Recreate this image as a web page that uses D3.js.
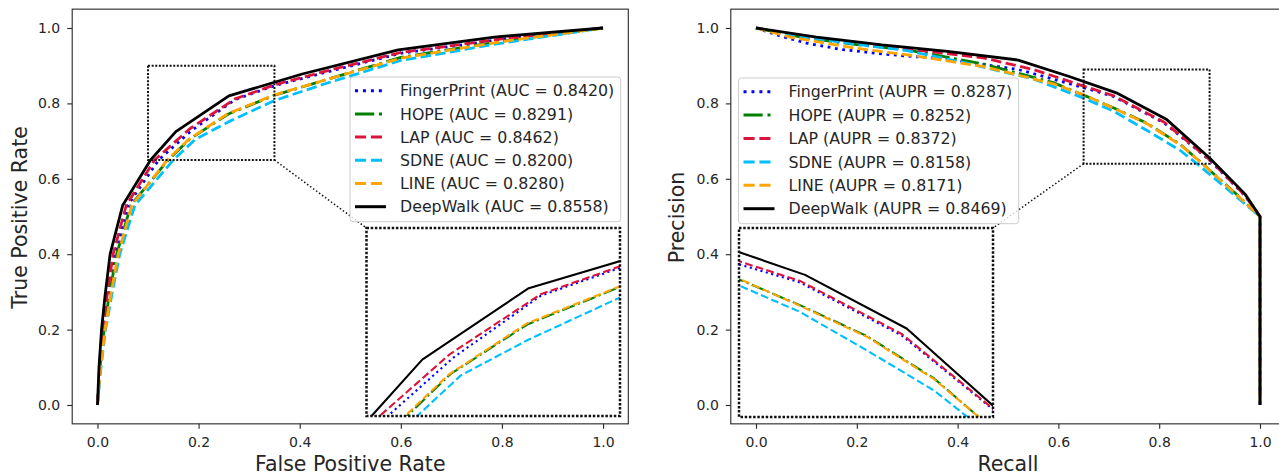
<!DOCTYPE html>
<html>
<head>
<meta charset="utf-8">
<script src="https://cdn.jsdelivr.net/npm/d3@7"></script>
<style>
  body { margin: 0; background: #fff; }
  text { font-family: "DejaVu Sans", sans-serif; }
</style>
</head>
<body>
<svg id="chart" width="1279" height="475"></svg>
<script>
// ---- data ----
const methods = ["FingerPrint", "HOPE", "LAP", "SDNE", "LINE", "DeepWalk"];
const colors = ["#0000ff", "#008000", "#dc143c", "#00bfff", "#ffa500", "#000000"];
const lineStyles = ["dotted", "dashdot", "dashed", "dashed", "dashed", "solid"];
const aucValues = ["0.8420", "0.8291", "0.8462", "0.8200", "0.8280", "0.8558"];
const auprValues = ["0.8287", "0.8252", "0.8372", "0.8158", "0.8171", "0.8469"];
const tickValues = [0, 0.2, 0.4, 0.6, 0.8, 1.0];

// ROC curves, [fpr, tpr]
const rocFingerPrint = [[0,0],[0.005,0.1],[0.012,0.2],[0.021,0.29],[0.034,0.4],[0.06,0.53],[0.121,0.65],[0.186,0.728],[0.272,0.81],[0.35,0.847],[0.45,0.882],[0.6,0.933],[0.8,0.97],[1,1]];
const rocHOPE = [[0,0],[0.005,0.1],[0.013,0.2],[0.023,0.29],[0.038,0.4],[0.066,0.53],[0.14,0.65],[0.183,0.706],[0.259,0.772],[0.349,0.821],[0.45,0.862],[0.6,0.922],[0.8,0.965],[1,1]];
const rocLAP = [[0,0],[0.004,0.1],[0.01,0.2],[0.019,0.29],[0.031,0.4],[0.057,0.53],[0.113,0.65],[0.182,0.732],[0.272,0.812],[0.35,0.849],[0.45,0.885],[0.6,0.935],[0.8,0.971],[1,1]];
const rocSDNE = [[0,0],[0.007,0.1],[0.016,0.2],[0.028,0.29],[0.044,0.4],[0.074,0.53],[0.15,0.65],[0.193,0.704],[0.259,0.751],[0.349,0.807],[0.45,0.852],[0.6,0.914],[0.8,0.96],[1,1]];
const rocLINE = [[0,0],[0.006,0.1],[0.015,0.2],[0.026,0.29],[0.041,0.4],[0.068,0.53],[0.138,0.65],[0.181,0.705],[0.258,0.773],[0.349,0.822],[0.45,0.862],[0.6,0.92],[0.8,0.964],[1,1]];
const rocDeepWalk = [[0,0],[0.003,0.1],[0.008,0.2],[0.015,0.29],[0.025,0.4],[0.05,0.53],[0.105,0.65],[0.155,0.725],[0.26,0.82],[0.405,0.878],[0.595,0.942],[0.785,0.976],[1,1]];

// PR curves, [recall, precision]
const prFingerPrint = [[0,1],[0.05,0.978],[0.1,0.96],[0.17,0.943],[0.26,0.93],[0.38,0.917],[0.52,0.89],[0.65,0.842],[0.71,0.818],[0.81,0.748],[0.9,0.65],[0.97,0.555],[1,0.5],[1,0]];
const prHOPE = [[0,1],[0.1,0.973],[0.2,0.956],[0.3,0.942],[0.45,0.905],[0.59,0.855],[0.65,0.822],[0.71,0.788],[0.776,0.747],[0.842,0.691],[0.886,0.64],[0.95,0.563],[1,0.5],[1,0]];
const prLAP = [[0,1],[0.1,0.976],[0.2,0.958],[0.31,0.943],[0.45,0.921],[0.55,0.89],[0.65,0.846],[0.71,0.82],[0.81,0.75],[0.9,0.651],[0.97,0.556],[1,0.5],[1,0]];
const prSDNE = [[0,1],[0.1,0.975],[0.2,0.957],[0.3,0.94],[0.42,0.906],[0.55,0.865],[0.65,0.814],[0.71,0.779],[0.776,0.728],[0.842,0.675],[0.875,0.64],[0.95,0.556],[1,0.5],[1,0]];
const prLINE = [[0,1],[0.07,0.975],[0.2,0.946],[0.31,0.927],[0.45,0.898],[0.59,0.852],[0.65,0.823],[0.71,0.787],[0.776,0.746],[0.842,0.69],[0.886,0.64],[0.95,0.562],[1,0.5],[1,0]];
const prDeepWalk = [[0,1],[0.12,0.976],[0.25,0.955],[0.38,0.938],[0.52,0.915],[0.62,0.872],[0.715,0.828],[0.815,0.757],[0.9,0.655],[0.97,0.56],[1,0.5],[1,0]];

const INK = "#262626";
const svg = d3.select("#chart");

// matplotlib-like dash patterns, scaled by line width
function dashArray(style, lw) {
    if (style === "dashed") return [3.7 * lw, 1.6 * lw].join(",");
    if (style === "dotted") return [1 * lw, 1.65 * lw].join(",");
    if (style === "dashdot") return [6.4 * lw, 1.6 * lw, 1 * lw, 1.6 * lw].join(",");
    return null;
}

function drawCurves(parent, series, x, y, lw) {
    const line = d3.line().x(d => x(d[0])).y(d => y(d[1]));
    series.forEach((pts, i) => {
        parent.append("path")
            .attr("d", line(pts))
            .attr("fill", "none")
            .attr("stroke", colors[i])
            .attr("stroke-width", lw)
            .attr("stroke-linejoin", "round")
            .attr("stroke-dasharray", dashArray(lineStyles[i], lw));
    });
}

function drawPanel(p) {
    const yBottom = 423.85, yTop = 9.15;
    const x = d3.scaleLinear().domain([-0.05, 1.05]).range(p.xRange);
    const y = d3.scaleLinear().domain([-0.05, 1.05]).range([yBottom, yTop]);
    const [x0, x1] = p.xRange;
    const g = svg.append("g");

    g.append("clipPath").attr("id", p.id + "-clip")
        .append("rect")
        .attr("x", x0).attr("y", yTop)
        .attr("width", x1 - x0).attr("height", yBottom - yTop);

    const main = g.append("g").attr("clip-path", `url(#${p.id}-clip)`);
    drawCurves(main, p.series, x, y, 2.8);

    // axes
    const gx = g.append("g")
        .attr("transform", `translate(0,${yBottom})`)
        .call(d3.axisBottom(x).tickValues(tickValues).tickFormat(d3.format(".1f")).tickSize(5).tickPadding(8));
    const gy = g.append("g")
        .attr("transform", `translate(${x0},0)`)
        .call(d3.axisLeft(y).tickValues(tickValues).tickFormat(d3.format(".1f")).tickSize(5).tickPadding(7));
    [gx, gy].forEach(a => {
        a.select(".domain").remove();
        a.selectAll("text").style("font-size", "14px").attr("fill", INK);
        a.selectAll("line").attr("stroke", INK).attr("stroke-width", 1.1);
    });

    g.append("rect")
        .attr("x", x0).attr("y", yTop)
        .attr("width", x1 - x0).attr("height", yBottom - yTop)
        .attr("fill", "none").attr("stroke", INK).attr("stroke-width", 1.1);

    g.append("text")
        .attr("x", (x0 + x1) / 2).attr("y", 471)
        .attr("text-anchor", "middle")
        .style("font-size", "20.5px").attr("fill", INK)
        .text(p.xLabel);
    g.append("text")
        .attr("transform", `translate(${p.yLabelX},${(yTop + yBottom) / 2 + 1}) rotate(-90)`)
        .attr("text-anchor", "middle")
        .style("font-size", "20.5px").attr("fill", INK)
        .text(p.yLabel);

    // zoomed region and its connector
    const z = p.zoom;
    g.append("rect")
        .attr("x", x(z.x[0])).attr("y", y(z.y[1]))
        .attr("width", x(z.x[1]) - x(z.x[0])).attr("height", y(z.y[0]) - y(z.y[1]))
        .attr("fill", "none").attr("stroke", "#111")
        .attr("stroke-width", 2).attr("stroke-dasharray", "2,1.6");
    g.append("line")
        .attr("x1", x(p.link[0])).attr("y1", y(p.link[1]))
        .attr("x2", p.linkTo[0]).attr("y2", p.linkTo[1])
        .attr("stroke", "#111").attr("stroke-width", 1.5).attr("stroke-dasharray", "1.5,2.2");

    // inset
    const b = p.inset;
    const ix = d3.scaleLinear().domain(z.x).range([b.left, b.right]);
    const iy = d3.scaleLinear().domain(z.y).range([b.bottom, b.top]);
    g.append("rect")
        .attr("x", b.left).attr("y", b.top)
        .attr("width", b.right - b.left).attr("height", b.bottom - b.top)
        .attr("fill", "#fff");
    g.append("clipPath").attr("id", p.id + "-inset")
        .append("rect")
        .attr("x", b.left).attr("y", b.top)
        .attr("width", b.right - b.left).attr("height", b.bottom - b.top);
    const ins = g.append("g").attr("clip-path", `url(#${p.id}-inset)`);
    drawCurves(ins, p.series, ix, iy, 2.1);
    g.append("rect")
        .attr("x", b.left).attr("y", b.top)
        .attr("width", b.right - b.left).attr("height", b.bottom - b.top)
        .attr("fill", "none").attr("stroke", "#111")
        .attr("stroke-width", 2.5).attr("stroke-dasharray", "2.5,1.7");

    // legend
    const L = p.legend;
    const lg = g.append("g");
    const box = lg.append("rect")
        .attr("x", L.x).attr("y", L.y)
        .attr("rx", 3)
        .attr("fill", "#fff").attr("fill-opacity", 0.8)
        .attr("stroke", "#cccccc").attr("stroke-width", 1);
    let maxW = 0;
    methods.forEach((m, i) => {
        const cy = L.y + L.first + i * L.step;
        lg.append("line")
            .attr("x1", L.x + 5).attr("x2", L.x + 36)
            .attr("y1", cy).attr("y2", cy)
            .attr("stroke", colors[i]).attr("stroke-width", 3)
            .attr("stroke-dasharray", dashArray(lineStyles[i], 3));
        const t = lg.append("text")
            .attr("x", L.x + 50).attr("y", cy).attr("dy", "0.36em")
            .style("font-size", "15.8px").attr("fill", INK)
            .text(`${m} (${p.metric} = ${p.values[i]})`);
        maxW = Math.max(maxW, t.node().getComputedTextLength());
    });
    box.attr("width", 50 + maxW + 6.5)
        .attr("height", L.first + (methods.length - 1) * L.step + 15);
}

drawPanel({
    id: "roc",
    xRange: [72.2, 628.3],
    series: [rocFingerPrint, rocHOPE, rocLAP, rocSDNE, rocLINE, rocDeepWalk],
    xLabel: "False Positive Rate",
    yLabel: "True Positive Rate",
    yLabelX: 26.7,
    zoom: { x: [0.1, 0.35], y: [0.65, 0.9] },
    link: [0.35, 0.65],
    linkTo: [366.5, 228],
    inset: { left: 366.5, right: 620, top: 228, bottom: 416 },
    legend: { x: 350, y: 77, first: 13.7, step: 23.2 },
    metric: "AUC",
    values: aucValues
});

drawPanel({
    id: "pr",
    xRange: [730.8, 1285.2],
    series: [prFingerPrint, prHOPE, prLAP, prSDNE, prLINE, prDeepWalk],
    xLabel: "Recall",
    yLabel: "Precision",
    yLabelX: 684,
    zoom: { x: [0.65, 0.9], y: [0.64, 0.89] },
    link: [0.65, 0.64],
    linkTo: [993, 228],
    inset: { left: 739, right: 993, top: 228, bottom: 417 },
    legend: { x: 738.5, y: 78, first: 13.7, step: 23.4 },
    metric: "AUPR",
    values: auprValues
});
</script>
</body>
</html>
